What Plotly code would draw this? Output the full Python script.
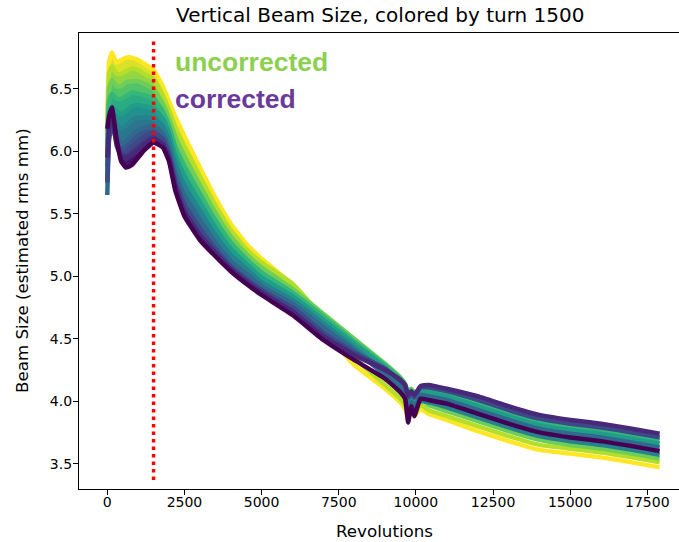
import plotly.graph_objects as go
from plotly.colors import sample_colorscale

# ---------------- data ----------------
revolutions = [0, 60, 150, 300, 450, 600, 800, 1000, 1200, 1500, 1800, 2000, 2200, 2500,
               3000, 3500, 4000, 4500, 5000, 6000, 7000, 8000, 9000, 9500, 9650, 9750,
               9850, 9950, 10150, 10400, 11000, 12000, 13000, 14000, 15000, 16000, 17000, 17900]

# beam size (estimated rms mm), one list per colour step (0 = corrected/purple ... 9 = uncorrected/yellow)
size_c0 = [6.18, 6.28, 6.35, 6.10, 5.92, 5.87, 5.89, 5.95, 6.01, 6.07, 6.03, 5.92, 5.69, 5.48,
           5.29, 5.16, 5.04, 4.94, 4.85, 4.69, 4.49, 4.33, 4.18, 4.07, 4.02, 3.83,
           3.96, 3.88, 4.02, 4.01, 3.98, 3.90, 3.82, 3.75, 3.71, 3.68, 3.64, 3.60]
size_c1 = [5.95, 6.20, 6.28, 6.05, 5.96, 5.94, 5.97, 6.01, 6.05, 6.10, 6.06, 5.95, 5.73, 5.52,
           5.33, 5.19, 5.06, 4.96, 4.87, 4.72, 4.52, 4.37, 4.25, 4.17, 4.13, 4.05,
           4.08, 4.05, 4.12, 4.13, 4.10, 4.04, 3.96, 3.89, 3.85, 3.82, 3.78, 3.74]
size_c2 = [5.75, 6.12, 6.22, 6.08, 6.00, 6.00, 6.04, 6.08, 6.12, 6.15, 6.10, 5.98, 5.77, 5.57,
           5.38, 5.22, 5.08, 4.98, 4.89, 4.75, 4.55, 4.39, 4.26, 4.16, 4.12, 4.03,
           4.06, 4.03, 4.11, 4.11, 4.08, 4.01, 3.93, 3.86, 3.82, 3.79, 3.75, 3.71]
size_c3 = [5.65, 6.10, 6.20, 6.12, 6.06, 6.08, 6.13, 6.17, 6.19, 6.20, 6.14, 6.02, 5.83, 5.64,
           5.45, 5.27, 5.12, 5.02, 4.92, 4.78, 4.59, 4.41, 4.21, 4.10, 4.05, 3.93,
           3.99, 3.94, 4.05, 4.04, 4.01, 3.93, 3.85, 3.78, 3.74, 3.71, 3.67, 3.63]
size_c4 = [5.78, 6.20, 6.27, 6.22, 6.18, 6.20, 6.25, 6.27, 6.27, 6.26, 6.20, 6.08, 5.90, 5.72,
           5.52, 5.33, 5.17, 5.06, 4.95, 4.81, 4.62, 4.43, 4.23, 4.12, 4.07, 3.96,
           4.01, 3.97, 4.00, 3.99, 3.95, 3.87, 3.79, 3.72, 3.68, 3.65, 3.61, 3.57]
size_c5 = [5.88, 6.30, 6.36, 6.32, 6.30, 6.32, 6.36, 6.37, 6.36, 6.34, 6.26, 6.14, 5.97, 5.80,
           5.59, 5.39, 5.22, 5.10, 4.99, 4.84, 4.65, 4.46, 4.27, 4.15, 4.10, 4.00,
           4.04, 4.01, 4.08, 4.07, 4.04, 3.96, 3.88, 3.81, 3.77, 3.74, 3.70, 3.66]
size_c6 = [5.98, 6.40, 6.46, 6.42, 6.42, 6.44, 6.47, 6.46, 6.45, 6.42, 6.32, 6.20, 6.04, 5.88,
           5.66, 5.45, 5.27, 5.14, 5.03, 4.87, 4.68, 4.48, 4.29, 4.18, 4.13, 4.06,
           4.09, 4.06, 4.10, 4.09, 4.06, 3.99, 3.91, 3.84, 3.80, 3.77, 3.73, 3.69]
size_c7 = [6.05, 6.50, 6.57, 6.52, 6.52, 6.55, 6.56, 6.56, 6.54, 6.50, 6.38, 6.26, 6.12, 5.96,
           5.73, 5.51, 5.32, 5.18, 5.07, 4.90, 4.70, 4.50, 4.30, 4.19, 4.14, 4.08,
           4.10, 4.07, 4.03, 3.97, 3.92, 3.84, 3.76, 3.69, 3.65, 3.62, 3.58, 3.54]
size_c8 = [6.12, 6.62, 6.68, 6.62, 6.62, 6.64, 6.66, 6.65, 6.62, 6.58, 6.45, 6.33, 6.20, 6.04,
           5.80, 5.57, 5.37, 5.22, 5.11, 4.94, 4.66, 4.35, 4.13, 4.02, 3.97, 3.88,
           3.94, 3.90, 3.97, 3.93, 3.88, 3.80, 3.72, 3.65, 3.62, 3.59, 3.55, 3.51]
size_c9 = [6.20, 6.72, 6.79, 6.71, 6.73, 6.75, 6.75, 6.73, 6.70, 6.65, 6.52, 6.40, 6.28, 6.12,
           5.87, 5.63, 5.42, 5.26, 5.14, 4.93, 4.57, 4.29, 4.10, 3.99, 3.94, 3.86,
           3.91, 3.88, 3.94, 3.90, 3.85, 3.76, 3.68, 3.61, 3.58, 3.55, 3.51, 3.47]

series = [size_c0, size_c1, size_c2, size_c3, size_c4, size_c5, size_c6, size_c7, size_c8, size_c9]

marker_turn = [1500, 1500]
marker_span = [3.37, 6.89]

x_ticks = [0, 2500, 5000, 7500, 10000, 12500, 15000, 17500]
x_tick_labels = ["0", "2500", "5000", "7500", "10000", "12500", "15000", "17500"]
y_ticks = [3.5, 4.0, 4.5, 5.0, 5.5, 6.0, 6.5]
y_tick_labels = ["3.5", "4.0", "4.5", "5.0", "5.5", "6.0", "6.5"]

# ---------------- figure ----------------
n = len(series)
ts = [i / (n - 1) for i in range(n)]
colors = sample_colorscale("Viridis", ts)

fig = go.Figure()

# filled bands between neighbouring colour steps (while they stay ordered)
nfill = 20
for i in range(n - 1):
    lo = series[i][:nfill]
    hi = series[i + 1][:nfill]
    xs = revolutions[:nfill] + revolutions[:nfill][::-1]
    ys = lo + hi[::-1]
    c = sample_colorscale("Viridis", [(ts[i] + ts[i + 1]) / 2])[0]
    fig.add_trace(go.Scatter(x=xs, y=ys, fill="toself", fillcolor=c, mode="none",
                             showlegend=False, hoverinfo="skip"))

# lines: yellow first, purple last (on top)
for i in reversed(range(n)):
    fig.add_trace(go.Scatter(x=revolutions, y=series[i], mode="lines",
                             line=dict(color=colors[i], width=4.5, shape="spline", smoothing=0.4),
                             showlegend=False))

fig.add_trace(go.Scatter(x=marker_turn, y=marker_span, mode="lines",
                         line=dict(color="red", width=3.5, dash="3.5px,4px"),
                         showlegend=False))

tick_font = dict(family="DejaVu Sans", size=14, color="black")
label_font = dict(family="DejaVu Sans", size=16.7, color="black")
fig.update_layout(
    width=679, height=542,
    margin=dict(l=79, r=0, t=33, b=53),
    plot_bgcolor="white", paper_bgcolor="white",
    xaxis=dict(range=[-917, 18527], tickvals=x_ticks, ticktext=x_tick_labels,
               showgrid=False, zeroline=False, showline=True, linecolor="black", linewidth=1.2,
               mirror=True, ticks="outside", ticklen=5, tickcolor="black", tickwidth=1,
               tickfont=tick_font, ticklabelstandoff=-5),
    yaxis=dict(range=[3.297, 6.947], tickvals=y_ticks, ticktext=y_tick_labels,
               showgrid=False, zeroline=False, showline=True, linecolor="black", linewidth=1.2,
               mirror=False, ticks="outside", ticklen=5, tickcolor="black", tickwidth=1,
               tickfont=tick_font, ticklabelstandoff=-2),
    annotations=[
        dict(text="Vertical Beam Size, colored by turn 1500", xref="paper", yref="paper",
             x=(380 - 79) / 600, y=(489 - 15) / 456, xanchor="center", yanchor="middle",
             showarrow=False, font=dict(family="DejaVu Sans", size=20, color="black")),
        dict(text="Revolutions", xref="paper", yref="paper",
             x=(384.5 - 79) / 600, y=-(531 - 489) / 456, xanchor="center", yanchor="middle",
             showarrow=False, font=label_font),
        dict(text="Beam Size (estimated rms mm)", xref="paper", yref="paper",
             x=-(79 - 22) / 600, y=0.5, xanchor="center", yanchor="middle", textangle=-90,
             showarrow=False, font=label_font),
        dict(text="<b>uncorrected</b>", xref="paper", yref="paper",
             x=(173 - 79) / 600, y=(489 - 62) / 456, xanchor="left", yanchor="middle",
             showarrow=False, font=dict(family="Liberation Sans", size=26.5, color="#8bd04e")),
        dict(text="<b>corrected</b>", xref="paper", yref="paper",
             x=(173 - 79) / 600, y=(489 - 99) / 456, xanchor="left", yanchor="middle",
             showarrow=False, font=dict(family="Liberation Sans", size=26.5, color="#6a3a9a")),
    ],
)

fig.write_html("out.html", config={"displayModeBar": False},
               post_script="document.body.style.margin='0';document.body.style.padding='0';")
